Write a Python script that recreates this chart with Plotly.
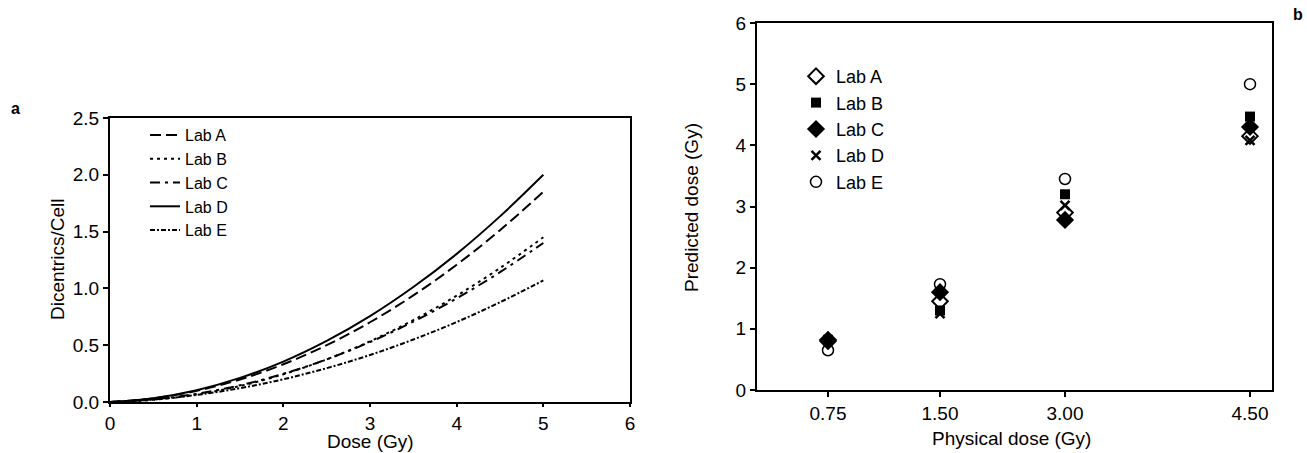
import plotly.graph_objects as go

# ---------------- Data ----------------
# Panel a: dose-response curves
dose = [0, 0.5, 1, 1.5, 2, 2.5, 3, 3.5, 4, 4.5, 5]
lab_a_curve = [0, 0.032, 0.098, 0.198, 0.332, 0.500, 0.702, 0.938, 1.208, 1.512, 1.85]
lab_b_curve = [0, 0.019, 0.066, 0.141, 0.244, 0.375, 0.534, 0.721, 0.936, 1.179, 1.45]
lab_c_curve = [0, 0.023, 0.072, 0.147, 0.248, 0.375, 0.528, 0.707, 0.912, 1.143, 1.40]
lab_d_curve = [0, 0.034, 0.104, 0.212, 0.356, 0.538, 0.756, 1.012, 1.304, 1.634, 2.00]
lab_e_curve = [0, 0.022, 0.062, 0.122, 0.200, 0.298, 0.414, 0.550, 0.704, 0.878, 1.07]

# Panel b: predicted vs physical dose
physical_labels = ["0.75", "1.50", "3.00", "4.50"]
physical_pos = [0.71, 1.83, 3.08, 4.93]   # axis positions of the categories
lab_a_pred = [0.80, 1.45, 2.90, 4.15]
lab_b_pred = [0.82, 1.30, 3.20, 4.47]
lab_c_pred = [0.82, 1.60, 2.78, 4.30]
lab_d_pred = [0.80, 1.25, 3.02, 4.08]
lab_e_pred = [0.65, 1.73, 3.45, 5.00]

labs = ["Lab A", "Lab B", "Lab C", "Lab D", "Lab E"]

FONT = "Liberation Sans, Arial, Helvetica, sans-serif"
BLACK = "#000000"
FS = 19

fig = go.Figure()

curves = [lab_a_curve, lab_b_curve, lab_c_curve, lab_d_curve, lab_e_curve]
dashes = ["11px,5px", "3px,4px", "10px,5px,3px,5px", "solid", "5px,2px,2px,2px"]
for name, ys, dsh in zip(labs, curves, dashes):
    fig.add_trace(go.Scatter(
        x=dose, y=ys, mode="lines", name=name,
        line=dict(color=BLACK, width=2, dash=dsh, shape="spline", smoothing=1.0),
        xaxis="x", yaxis="y", legend="legend"))

preds = [lab_a_pred, lab_b_pred, lab_c_pred, lab_d_pred, lab_e_pred]
symbols = ["diamond-open", "square", "diamond", "x-thin", "circle-open"]
sizes = [12, 10, 14, 9, 11]
lws = [2, 0, 0, 2.5, 1.5]
for name, ys, sym, sz, lw in zip(labs, preds, symbols, sizes, lws):
    fig.add_trace(go.Scatter(
        x=physical_pos, y=ys, mode="markers", name=name,
        marker=dict(symbol=sym, size=sz, color=BLACK,
                    line=dict(color=BLACK, width=lw)),
        xaxis="x2", yaxis="y2", legend="legend2"))

axis_common = dict(showline=True, linecolor=BLACK, linewidth=2, mirror=True,
                   ticks="outside", tickwidth=1.5, tickcolor=BLACK,
                   showgrid=False, zeroline=False, automargin=False,
                   tickfont=dict(family=FONT, size=FS, color=BLACK))

W, H = 1307, 453


def px_x(p):
    return p / W


def px_y(p):
    return 1 - p / H


def label(text, x, y, size=FS, angle=0):
    return dict(text=text, x=px_x(x), y=px_y(y), xref="paper", yref="paper",
                xanchor="center", yanchor="middle", showarrow=False,
                textangle=angle, font=dict(family=FONT, size=size, color=BLACK))


fig.update_layout(
    width=W, height=H,
    margin=dict(l=0, r=0, t=0, b=0, autoexpand=False),
    paper_bgcolor="white", plot_bgcolor="white",
    font=dict(family=FONT, size=FS, color=BLACK),
    xaxis=dict(domain=[px_x(110), px_x(630)], range=[0, 6], dtick=1,
               anchor="y", ticklen=3, **axis_common),
    yaxis=dict(domain=[px_y(402), px_y(118)], range=[0, 2.5], dtick=0.5,
               tickformat=".1f", anchor="x", ticklen=5, **axis_common),
    xaxis2=dict(domain=[px_x(757), px_x(1272)], range=[0, 5.15],
                tickvals=physical_pos, ticktext=physical_labels,
                anchor="y2", ticklen=5, **axis_common),
    yaxis2=dict(domain=[px_y(390), px_y(23)], range=[0, 6], dtick=1,
                anchor="x2", ticklen=5, **axis_common),
    legend=dict(x=px_x(145), y=px_y(118), xanchor="left", yanchor="top",
                bgcolor="rgba(0,0,0,0)", font=dict(family=FONT, size=16, color=BLACK),
                tracegroupgap=0, itemwidth=30),
    legend2=dict(x=px_x(796), y=px_y(58), xanchor="left", yanchor="top",
                 bgcolor="rgba(0,0,0,0)", font=dict(family=FONT, size=18, color=BLACK),
                 tracegroupgap=0),
    showlegend=True,
    annotations=[
        label("Dose (Gy)", 370, 441),
        label("Dicentrics/Cell", 57, 260, angle=-90),
        label("Physical dose (Gy)", 1011, 438),
        label("Predicted dose (Gy)", 691, 207, angle=-90),
        label("<b>a</b>", 15, 108, size=16),
        label("<b>b</b>", 1298, 15, size=16),
    ],
)

# remove the browser's default 8px page margin so the figure fills the window
fig.write_html("out.html",
               config={"displayModeBar": False},
               post_script="document.body.style.margin='0px';document.body.style.overflow='hidden';")
